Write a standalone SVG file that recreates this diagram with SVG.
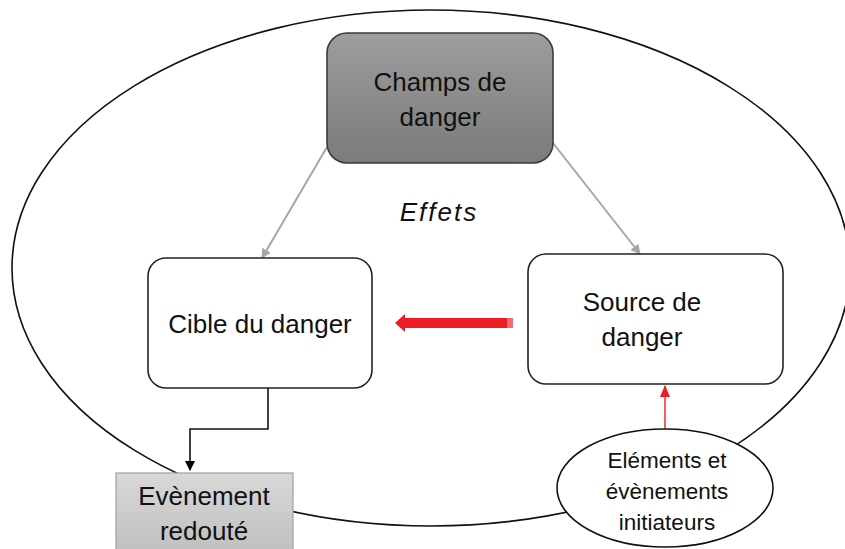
<svg xmlns="http://www.w3.org/2000/svg" width="845" height="549" viewBox="0 0 845 549">
<defs>
<style>
.t{font-family:"Liberation Sans","Open Sans",sans-serif;font-size:26px;fill:#111;text-anchor:middle}
.s{font-size:22.5px}
.box{fill:#fff;stroke:#222;stroke-width:1.6}
.g{stroke:#a6a6a6;stroke-width:2;fill:none}
</style>
<linearGradient id="gTop" x1="0" y1="0" x2="0" y2="1">
<stop offset="0" stop-color="#9d9d9d"/><stop offset="1" stop-color="#7b7b7b"/>
</linearGradient>
<linearGradient id="gEv" x1="0" y1="0" x2="0" y2="1">
<stop offset="0" stop-color="#d8d8d8"/><stop offset="1" stop-color="#bdbdbd"/>
</linearGradient>
<marker id="ag" markerWidth="10" markerHeight="10" refX="9" refY="5" orient="auto" markerUnits="userSpaceOnUse"><path d="M0,0 L10,5 L0,10 z" fill="#a6a6a6"/></marker>
<marker id="ab" markerWidth="10" markerHeight="10" refX="9" refY="5" orient="auto" markerUnits="userSpaceOnUse"><path d="M0,0 L10,5 L0,10 z" fill="#000"/></marker>
<marker id="ar" markerWidth="12" markerHeight="10" refX="11" refY="5" orient="auto" markerUnits="userSpaceOnUse"><path d="M0,0 L12,5 L0,10 z" fill="#ee1c25"/></marker>
</defs>
<rect width="845" height="549" fill="#fff"/>
<g id="outer"><ellipse cx="431" cy="268" rx="419" ry="258" fill="none" stroke="#111" stroke-width="1.6"/></g>
<g id="connectors">
<line class="g" x1="327" y1="147" x2="262" y2="258" marker-end="url(#ag)"/>
<line class="g" x1="553" y1="143" x2="640" y2="254" marker-end="url(#ag)"/>
<path d="M513,318 L405,318 L405,314 L395,323 L405,332 L405,328 L513,328 z" fill="#ee1c25"/>
<rect x="507" y="318" width="6" height="10" fill="#f36b6f"/>
<path d="M268,388 V429 H190 V470" fill="none" stroke="#111" stroke-width="1.6" marker-end="url(#ab)"/>
<line x1="665" y1="429" x2="665" y2="386" stroke="#ee1c25" stroke-width="1.4" marker-end="url(#ar)"/>
</g>
<g id="champs">
<rect x="327" y="33" width="226" height="130" rx="20" fill="url(#gTop)" stroke="#3a3a3a" stroke-width="1.6"/>
<text class="t" x="440" y="91">Champs de</text>
<text class="t" x="440" y="126">danger</text>
</g>
<g id="effets"><text class="t" x="439" y="221" font-size="28" letter-spacing="2" font-style="italic">Effets</text></g>
<g id="cible">
<rect class="box" x="148" y="258" width="224" height="130" rx="18"/>
<text class="t" x="260" y="333">Cible du danger</text>
</g>
<g id="source">
<rect class="box" x="528" y="254" width="255" height="130" rx="18"/>
<text class="t" x="642" y="311">Source de</text>
<text class="t" x="642" y="346">danger</text>
</g>
<g id="evenement">
<rect x="116" y="473" width="177" height="90" fill="url(#gEv)" stroke="#a0a0a0" stroke-width="1.2"/>
<text class="t" x="204" y="505">Evènement</text>
<text class="t" x="204" y="540">redouté</text>
</g>
<g id="elements">
<ellipse cx="665" cy="488" rx="108" ry="59" fill="#fff" stroke="#111" stroke-width="1.6"/>
<text class="t s" x="667" y="468">Eléments et</text>
<text class="t s" x="667" y="499">évènements</text>
<text class="t s" x="667" y="530">initiateurs</text>
</g>
</svg>
